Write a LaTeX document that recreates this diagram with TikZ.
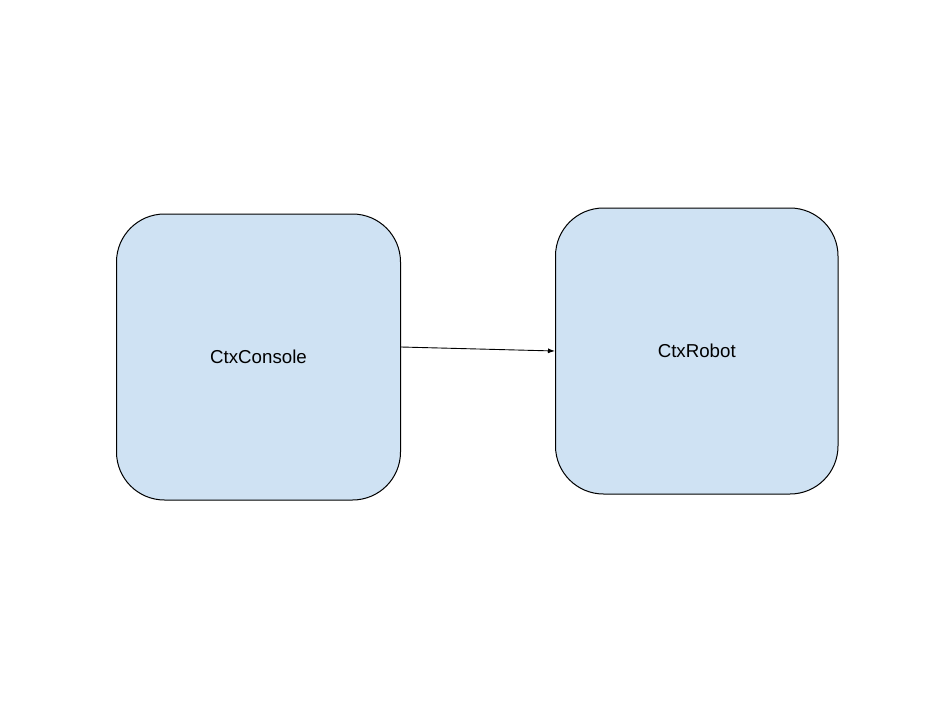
\documentclass[tikz,border=0pt]{standalone}
\usepackage{xcolor}
\usepackage{fontspec}
\setmainfont{Liberation Sans}
\usepackage{tikz}
\usetikzlibrary{arrows.meta}
\definecolor{boxblue}{HTML}{CFE2F3}
\begin{document}
\begin{tikzpicture}[x=1pt,y=-1pt]
    \tikzstyle{ctxbox}=[draw=black, fill=boxblue, line width=1pt, rounded corners=48pt,
        inner sep=0pt, font=\fontsize{18.7}{22}\selectfont]
    \useasboundingbox (0,0) rectangle (951,715);
    \node [ctxbox, minimum width=284pt, minimum height=286pt] (console) at (258.5,357) {CtxConsole};
    \node [ctxbox, minimum width=282.5pt, minimum height=286pt] (robot) at (696.75,351) {CtxRobot};
    \draw [black, line width=0.9pt, -{Latex[length=7pt,width=5pt]}] ([yshift=10pt]console.east) -- (robot.west);
\end{tikzpicture}
\end{document}
